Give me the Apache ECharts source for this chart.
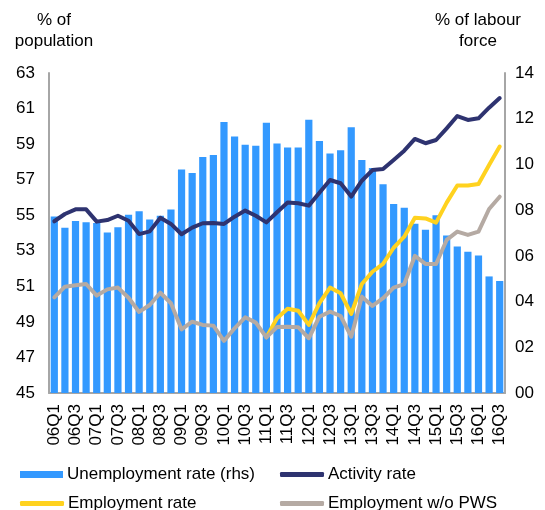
<!DOCTYPE html>
<html>
<head>
    <meta charset="UTF-8">
    <title>labour market</title>
    <script src="https://cdn.jsdelivr.net/npm/echarts@6/dist/echarts.min.js"></script>
    <style>
        *{margin:0;padding:0}
        html,body{width:100%;height:100%;background:#fff}
        #main{width:545px;height:510px}
    </style>
</head>
<body>
    <div id="main"></div>
    <script type="text/javascript">
        var quarters = ['06Q1','06Q2','06Q3','06Q4','07Q1','07Q2','07Q3','07Q4','08Q1','08Q2','08Q3','08Q4',
            '09Q1','09Q2','09Q3','09Q4','10Q1','10Q2','10Q3','10Q4','11Q1','11Q2','11Q3','11Q4',
            '12Q1','12Q2','12Q3','12Q4','13Q1','13Q2','13Q3','13Q4','14Q1','14Q2','14Q3','14Q4',
            '15Q1','15Q2','15Q3','15Q4','16Q1','16Q2','16Q3'];
        // rhs, % of labour force
        var unemployment = [7.72,7.23,7.53,7.47,7.44,7.02,7.25,7.80,7.95,7.59,7.75,8.03,9.78,9.62,10.32,10.41,11.86,11.22,10.86,10.82,
            11.82,10.92,10.74,10.74,11.95,11.02,10.48,10.62,11.63,10.19,9.84,9.13,8.27,8.11,7.40,7.14,7.78,6.89,6.41,6.18,6.02,5.10,4.90];
        // lhs, % of population
        var activity = [54.66,55.07,55.33,55.33,54.64,54.73,54.97,54.69,53.94,54.09,54.86,54.51,53.93,54.30,54.55,54.56,54.51,54.92,55.26,54.97,
            54.60,55.17,55.71,55.67,55.54,56.27,56.98,56.80,56.05,56.94,57.54,57.60,58.11,58.63,59.29,59.05,59.23,59.89,60.58,60.36,60.45,61.05,61.59];
        var employment = [null,null,null,null,null,null,null,null,null,null,null,null,null,null,null,null,null,null,null,null,
            48.13,49.20,49.74,49.63,48.83,50.05,50.93,50.61,49.45,51.13,51.82,52.26,53.17,53.79,54.86,54.82,54.58,55.71,56.67,56.67,56.76,57.83,58.86];
        var employmentNoPws = [50.38,50.98,51.06,51.13,50.48,50.83,50.93,50.36,49.56,49.95,50.64,50.05,48.58,49.01,48.83,48.79,47.93,48.64,49.26,48.96,
            48.13,48.71,48.72,48.70,48.08,49.29,49.58,49.33,48.17,50.42,49.90,50.33,50.93,51.13,52.71,52.26,52.26,53.61,54.08,53.89,54.08,55.35,56.04];

        var font = 'Liberation Sans, Arial, sans-serif';
        var axisLine = {show: true, lineStyle: {color: '#a6a6a6', width: 2}};
        var lineStyle = function (c) {
            return {color: c, width: 4, cap: 'round', join: 'round'};
        };
        // one legend per entry so each one sits where the original has it
        var legendItem = function (name, icon, left, top, w, h) {
            return {
                left: left, top: top, itemWidth: w, itemHeight: h, padding: 0,
                textStyle: {fontSize: 17, color: '#000', fontFamily: font, padding: [0, 0, 0, -1]},
                data: [{name: name, icon: icon}]
            };
        };

        var myChart = echarts.init(document.getElementById('main'));
        var option = {
            animation: false,
            textStyle: {fontFamily: font},
            grid: {left: 49, right: 40, top: 73, bottom: 117},
            graphic: [
                {type: 'text', x: 54, y: 10,
                    style: {text: '% of\npopulation', font: '17px ' + font, fill: '#000', align: 'center', lineHeight: 21}},
                {type: 'text', x: 478, y: 10,
                    style: {text: '% of labour\nforce', font: '17px ' + font, fill: '#000', align: 'center', lineHeight: 21}}
            ],
            legend: [
                legendItem('Unemployment rate (rhs)', 'rect', 20, 466, 43, 7),
                legendItem('Employment rate', 'roundRect', 20, 495, 44, 5),
                legendItem('Activity rate', 'roundRect', 280, 466, 44, 5),
                legendItem('Employment w/o PWS', 'roundRect', 280, 495, 44, 5)
            ],
            xAxis: {
                type: 'category',
                data: quarters,
                axisLine: axisLine,
                axisTick: {show: false},
                axisLabel: {interval: 1, rotate: 90, fontSize: 17, color: '#000', margin: 11}
            },
            yAxis: [
                {
                    type: 'value', min: 45, max: 63, interval: 2,
                    axisLine: axisLine, axisTick: {show: false}, splitLine: {show: false},
                    axisLabel: {fontSize: 17, color: '#000', margin: 14}
                },
                {
                    type: 'value', min: 0, max: 14, interval: 2,
                    axisLine: axisLine, axisTick: {show: false}, splitLine: {show: false},
                    axisLabel: {fontSize: 17, color: '#000', margin: 10,
                        formatter: function (v) { return v < 10 ? '0' + v : '' + v; }}
                }
            ],
            series: [
                {
                    name: 'Unemployment rate (rhs)', type: 'bar', yAxisIndex: 1,
                    data: unemployment, barCategoryGap: '32%',
                    itemStyle: {color: '#3399ff'}
                },
                {
                    name: 'Activity rate', type: 'line', data: activity,
                    symbol: 'none', lineStyle: lineStyle('#2e3370'), itemStyle: {color: '#2e3370'}
                },
                {
                    name: 'Employment rate', type: 'line', data: employment,
                    symbol: 'none', lineStyle: lineStyle('#ffd21f'), itemStyle: {color: '#ffd21f'}
                },
                {
                    name: 'Employment w/o PWS', type: 'line', data: employmentNoPws,
                    symbol: 'none', lineStyle: lineStyle('#b5aaa3'), itemStyle: {color: '#b5aaa3'}
                }
            ]
        };
        myChart.setOption(option);
    </script>
</body>
</html>
